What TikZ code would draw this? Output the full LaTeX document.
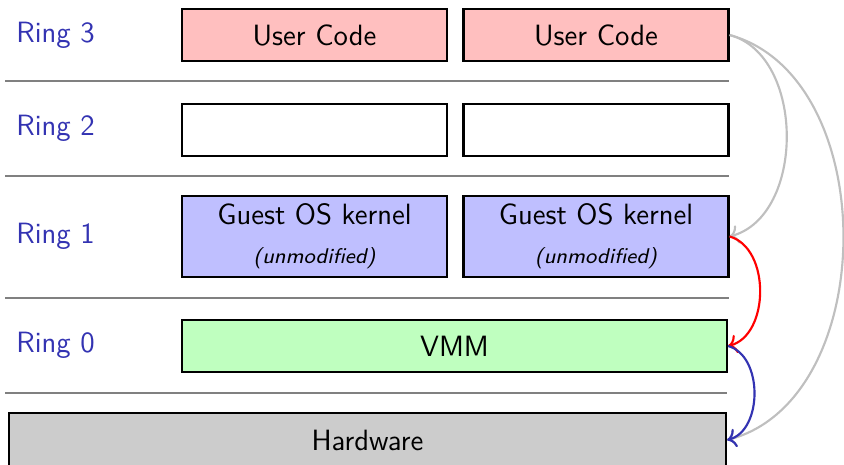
\documentclass[tikz,border=0pt]{standalone}
\usepackage{tikz}
\usepackage{color}
\usetikzlibrary{arrows.meta}
\usetikzlibrary{calc}
\definecolor{ringblue}{RGB}{51,51,178}
\definecolor{userred}{RGB}{255,191,191}
\definecolor{kernblue}{RGB}{191,191,255}
\definecolor{vmmgreen}{RGB}{191,255,191}
\definecolor{hwgray}{RGB}{204,204,204}
\definecolor{sepgray}{RGB}{128,128,128}
\definecolor{trapgray}{RGB}{191,191,191}

\begin{document}
\begin{tikzpicture}[x=0.375pt, y=-0.375pt, font=\sffamily\fontsize{11}{13}\selectfont]
	\useasboundingbox (0,0) rectangle (844,465);
	\begin{scope} [every node/.style={anchor=west, text=ringblue}]
		\node (r3) at (7,35){Ring 3};
		\node (r2) at (7,128){Ring 2};
		\node (r1) at (7,236){Ring 1};
		\node (r0) at (7,345){Ring 0};
	\end{scope}
	\begin{scope} [every node/.style={draw, thick, inner sep=0pt, minimum width=99.4pt, minimum height=19.5pt}]
		\node[fill=userred] (uc1) at (314.5,35){User Code};
		\node[fill=userred] (uc2) at (596,35){User Code};
		\node (e1) at (314.5,130){};
		\node (e2) at (596,130){};
		\node[fill=kernblue, minimum height=30.4pt, align=center] (go1) at (314.5,236.5){Guest OS kernel\\[1.5pt]{\footnotesize\itshape (unmodified)}};
		\node[fill=kernblue, minimum height=30.4pt, align=center] (go2) at (596,236.5){Guest OS kernel\\[1.5pt]{\footnotesize\itshape (unmodified)}};
		\node[fill=vmmgreen, minimum width=204.4pt] (vmm) at (454.5,346){VMM};
		\node[fill=hwgray, minimum width=268.9pt, minimum height=20.25pt] (hw) at (367.5,440){Hardware};
	\end{scope}
	\draw[sepgray, thick] (5,81) -- (729,81);
	\draw[sepgray, thick] (5,176) -- (729,176);
	\draw[sepgray, thick] (5,298) -- (729,298);
	\draw[sepgray, thick] (5,393) -- (727,393);
	\draw[trapgray, thick, ->] (uc2.east) to[bend left=75] (go2.east);
	\draw[trapgray, thick, ->] (uc2.east) to[bend left=75] (hw.east);
	\draw[red, thick, ->] (go2.east) to[bend left=75] (vmm.east);
	\draw[ringblue, thick, ->] (vmm.east) to[bend left=75] (hw.east);
\end{tikzpicture}
\end{document}
